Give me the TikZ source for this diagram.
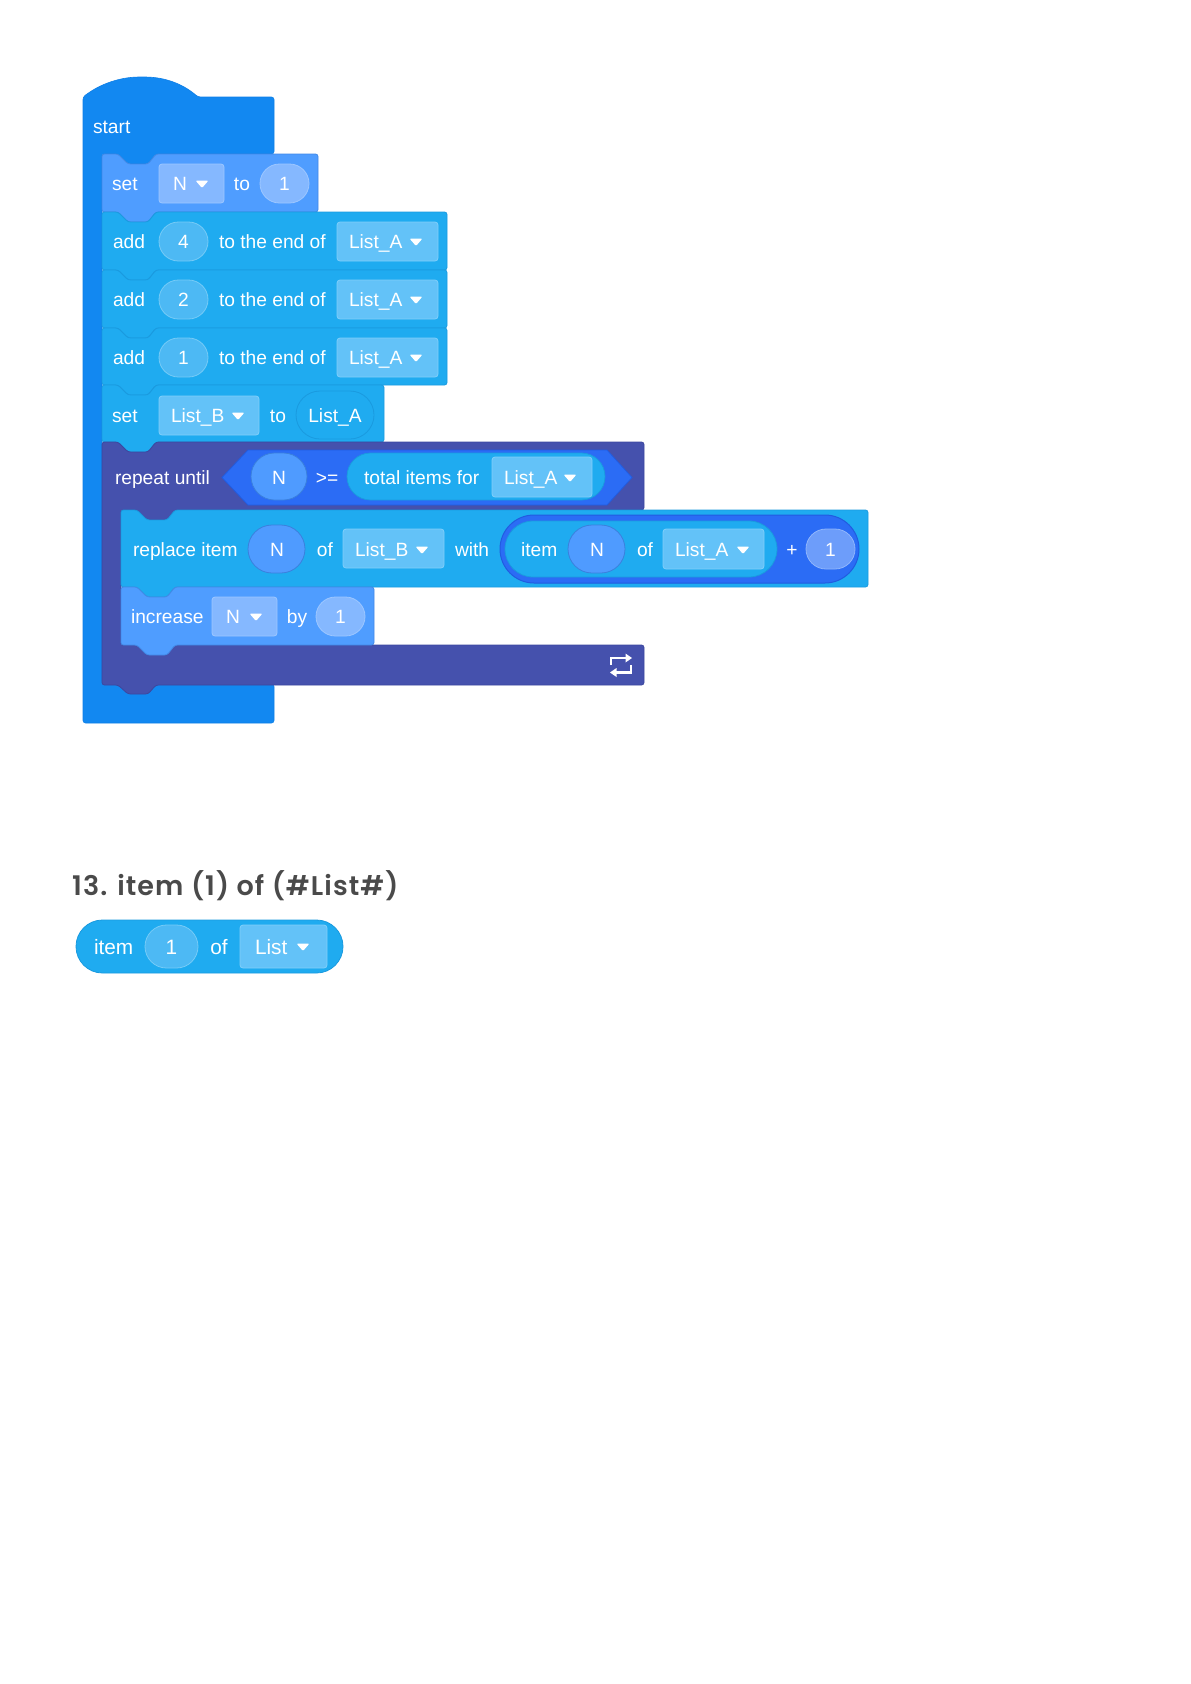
\documentclass[tikz,border=0pt]{standalone}
\usepackage{fontspec}
\setmainfont{Liberation Sans}
\newfontfamily\titlefont{Poppins SemiBold}[LetterSpace=4]
\definecolor{cstart}{HTML}{1288F1}
\definecolor{cstartl}{HTML}{0F7FE6}
\definecolor{cset}{HTML}{4F9DFF}
\definecolor{csetl}{HTML}{4289E6}
\definecolor{cadd}{HTML}{1FABF0}
\definecolor{caddl}{HTML}{1A9ADF}
\definecolor{crep}{HTML}{4551AD}
\definecolor{crepl}{HTML}{3C479F}
\definecolor{chex}{HTML}{2B6CF5}
\definecolor{chexl}{HTML}{215CE0}
\definecolor{ovA}{HTML}{4DB9F4}
\definecolor{ovAl}{HTML}{76CBF7}
\definecolor{boxA}{HTML}{63C2F8}
\definecolor{boxAl}{HTML}{80CFFA}
\definecolor{ovS}{HTML}{85B8FF}
\definecolor{ovSl}{HTML}{9DC7FF}
\definecolor{ovN}{HTML}{4F9BFF}
\definecolor{ovNl}{HTML}{3A80DD}
\definecolor{ovP}{HTML}{6D9DFA}
\definecolor{ovPl}{HTML}{8FB5FC}
\definecolor{ttl}{HTML}{4A4A4A}
\tikzset{
  lbl/.style={text=white,font=\fontsize{19.2}{22}\selectfont,inner sep=0pt,outer sep=0pt},
  lblbig/.style={text=white,font=\fontsize{20.8}{24}\selectfont,inner sep=0pt,outer sep=0pt},
  blockA/.style={fill=cadd,draw=caddl,line width=.8pt},
  blockS/.style={fill=cset,draw=csetl,line width=.8pt},
  ovalA/.style={fill=ovA,draw=ovAl,line width=.8pt},
  ovalS/.style={fill=ovS,draw=ovSl,line width=.8pt},
  ovalN/.style={fill=ovN,draw=ovNl,line width=.8pt},
  ovalP/.style={fill=ovP,draw=ovPl,line width=.8pt},
  ovalL/.style={fill=cadd,draw=caddl,line width=.8pt},
  dropA/.style={fill=boxA,draw=boxAl,line width=.8pt},
  dropS/.style={fill=ovS,draw=ovSl,line width=.8pt},
}
% block with notch on top and tab at the bottom: style, x, y, w, h
\newcommand\stackblock[5]{%
  \begin{scope}[shift={(#2,#3)}]
    \path[#1,rounded corners=2.5pt] (0,0) -- (16,0) -- (26,10) -- (46,10) -- (54,0) -- (#4,0)
      -- (#4,#5) -- (54,#5) -- (46,#5+10) -- (26,#5+10) -- (16,#5) -- (0,#5) -- cycle;
  \end{scope}}
% pill with true semicircular ends: style, x1, y1, x2, y2
\newcommand\pill[5]{%
  \pgfmathsetmacro\pr{(#5-#3)/2}%
  \pgfmathsetmacro\pk{.4477*\pr}%
  \pgfmathsetmacro\pm{(#3+#5)/2}%
  \path[#1] (#2+\pr,#3) -- (#4-\pr,#3)
    .. controls (#4-\pk,#3) and (#4,#3+\pk) .. (#4,\pm)
    .. controls (#4,#5-\pk) and (#4-\pk,#5) .. (#4-\pr,#5)
    -- (#2+\pr,#5)
    .. controls (#2+\pk,#5) and (#2,#5-\pk) .. (#2,\pm)
    .. controls (#2,#3+\pk) and (#2+\pk,#3) .. (#2+\pr,#3) -- cycle;}
% dropdown field: style, x1, y1, x2, y2
\newcommand\ddfield[5]{\path[#1,rounded corners=3pt] (#2,#3) rectangle (#4,#5);}
% dropdown triangle: cx, cy
\newcommand\ddarrow[2]{\path[fill=white,rounded corners=1.2pt] (#1-6.5,#2-3.5) -- (#1+6.5,#2-3.5) -- (#1,#2+4) -- cycle;}
% text: name, x, centre y, text
\newcommand\txl[4]{\node[lbl,anchor=base west] (#1) at (#2,#3+6.5) {#4};}
\newcommand\txc[4]{\node[lbl,anchor=base] (#1) at (#2,#3+6.5) {#4};}
\begin{document}
\begin{tikzpicture}[x=1pt,y=-1pt]
\useasboundingbox (0,0) rectangle (1191,1684);
\fill[white] (0,0) rectangle (1191,1684);

% start hat block
\path[fill=cstart,draw=cstartl,line width=.6pt,rounded corners=2.5pt]
  (83,97) .. controls (100,84) and (120,77) .. (142,77)
  .. controls (165,77) and (183,84) .. (198,97)
  -- (274,97) -- (274,154) -- (156,154) -- (148,164) -- (128,164) -- (118,154) -- (102,154)
  -- (102,684) -- (274,684) -- (274,723) -- (83,723) -- cycle;
\txl{tstart}{93}{127}{start}

% set N to 1
\stackblock{blockS}{102}{154}{216}{58}
\txl{tset1}{112}{184}{set}
\ddfield{dropS}{159}{164}{224}{203}
\txc{tsetN}{180}{184}{N}
\ddarrow{202}{184}
\txc{tsetto}{242}{184}{to}
\pill{ovalS}{260}{164}{309}{203}
\txc{tsetv}{284.5}{184}{1}

% add rows
\stackblock{blockA}{102}{212}{345}{58}
\txl{tadd1}{113}{242}{add}
\pill{ovalA}{159}{222}{208}{261}
\txc{tadd1v}{183.5}{242}{4}
\txl{tadd1e}{219}{242}{to the end of}
\ddfield{dropA}{337}{222}{438}{261}
\txl{tadd1l}{349}{242}{List\_A}
\ddarrow{416}{242}

\stackblock{blockA}{102}{270}{345}{58}
\txl{tadd2}{113}{300}{add}
\pill{ovalA}{159}{280}{208}{319}
\txc{tadd2v}{183.5}{300}{2}
\txl{tadd2e}{219}{300}{to the end of}
\ddfield{dropA}{337}{280}{438}{319}
\txl{tadd2l}{349}{300}{List\_A}
\ddarrow{416}{300}

\stackblock{blockA}{102}{328}{345}{57}
\txl{tadd3}{113}{358}{add}
\pill{ovalA}{159}{338}{208}{377}
\txc{tadd3v}{183.5}{358}{1}
\txl{tadd3e}{219}{358}{to the end of}
\ddfield{dropA}{337}{338}{438}{377}
\txl{tadd3l}{349}{358}{List\_A}
\ddarrow{416}{358}

% set List_B to List_A
\stackblock{blockA}{102}{385}{282}{57}
\txl{tset2}{112}{416}{set}
\ddfield{dropA}{159}{396}{259}{435}
\txl{tset2b}{171}{416}{List\_B}
\ddarrow{238}{416}
\txc{tset2to}{278}{416}{to}
\pill{ovalL}{296}{391}{374}{439}
\txc{tset2a}{335}{416}{List\_A}

% repeat until C block
\path[fill=crep,draw=crepl,line width=.8pt,rounded corners=2.5pt]
  (102,442) -- (118,442) -- (128,452) -- (148,452) -- (156,442) -- (644,442) -- (644,510)
  -- (175,510) -- (167,520) -- (147,520) -- (137,510)
  -- (121,510) -- (121,645) -- (644,645) -- (644,685) -- (156,685) -- (148,694) -- (128,694) -- (118,685) -- (102,685) -- cycle;
\txl{trep}{115}{478}{repeat until}
% condition hexagon
\path[fill=chex,draw=chexl,line width=.8pt] (222,477.5) -- (248,450) -- (607,450) -- (632,477.5) -- (607,505) -- (248,505) -- cycle;
\pill{ovalN}{251}{453}{307}{500}
\txc{trepN}{279}{478}{N}
\txc{tge}{327}{478}{>=}
\pill{ovalL}{347}{453}{605}{500}
\txl{ttotal}{364}{478}{total items for}
\ddfield{dropA}{492}{457}{592}{497}
\txl{trepl}{504}{478}{List\_A}
\ddarrow{570}{478}
% loop icon
\draw[white,line width=2.2pt] (611,665) -- (611,658) -- (626,658);
\path[fill=white] (632,658) -- (625.5,653.5) -- (625.5,662.5) -- cycle;
\draw[white,line width=2.2pt] (631,665) -- (631,672.5) -- (616,672.5);
\path[fill=white] (610,672.5) -- (616.5,668) -- (616.5,677) -- cycle;

% replace item
\stackblock{blockA}{121}{510}{747}{77}
\txl{trepl1}{133}{550}{replace item}
\pill{ovalN}{248}{525}{305}{573}
\txc{treplN}{277}{550}{N}
\txc{treplof}{325}{550}{of}
\ddfield{dropA}{343}{529}{444}{568}
\txl{treplb}{355}{550}{List\_B}
\ddarrow{422}{550}
\txl{twith}{455}{550}{with}
\pill{fill=chex,draw=chexl,line width=1pt}{500}{515}{859}{583}
\pill{ovalL}{505}{521}{777}{577}
\txl{titem}{521}{550}{item}
\pill{ovalN}{568}{525}{625}{573}
\txc{titemN}{597}{550}{N}
\txc{titemof}{645}{550}{of}
\ddfield{dropA}{663}{529}{764}{569}
\txl{titema}{675}{550}{List\_A}
\ddarrow{743}{550}
\txc{tplus}{792}{550}{+}
\pill{ovalP}{806}{529}{855}{569}
\txc{tplusv}{830.5}{550}{1}

% increase
\stackblock{blockS}{121}{587}{253}{58}
\txl{tinc}{131}{617}{increase}
\ddfield{dropS}{212}{597}{277}{636}
\txc{tincN}{233}{617}{N}
\ddarrow{256}{617}
\txc{tincby}{297}{617}{by}
\pill{ovalS}{316}{597}{365}{636}
\txc{tincv}{340.5}{617}{1}

% heading
\node[anchor=base west,inner sep=0pt,text=ttl,font=\titlefont\fontsize{27}{30}\selectfont] (title) at (72,895) {13. item (1) of (\#List\#)};

% item reporter
\pill{blockA}{76}{920}{343}{973}
\node[lblbig,anchor=base west] (tit) at (94,954) {item};
\pill{ovalA}{145}{925}{198}{968}
\node[lblbig,anchor=base] (titv) at (171.5,954) {1};
\node[lblbig,anchor=base] (titof) at (219,954) {of};
\ddfield{dropA}{240}{925}{327}{968}
\node[lblbig,anchor=base west] (titl) at (255,954) {List};
\ddarrow{303}{947}
\end{tikzpicture}
\end{document}
